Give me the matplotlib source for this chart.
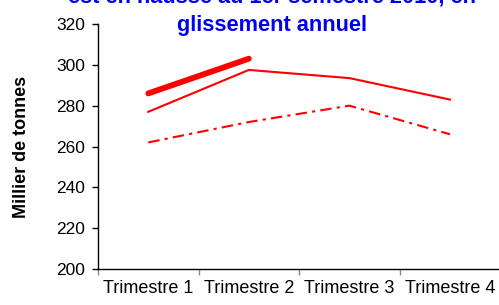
import numpy as np
import matplotlib
matplotlib.use("Agg")
import matplotlib.pyplot as plt

plt.rcParams['font.family'] = ['Liberation Sans', 'DejaVu Sans']

trimestres = ['Trimestre 1', 'Trimestre 2', 'Trimestre 3', 'Trimestre 4']
annee_2010 = [286, 303]             # thick line, only first semester
annee_2009 = [277, 297.5, 293.5, 283]
annee_2008 = [262, 272, 280, 266]

fig = plt.figure(figsize=(4.99, 3.05), dpi=100)
ax = fig.add_axes([0.1964, 0.118, 0.806, 0.8033])

x = np.arange(1, len(trimestres) + 1)
red = '#ff0000'

ax.plot(x, annee_2008, color=red, lw=1.5, dashes=(5.5, 2.5, 1.5, 2.5))
ax.plot(x, annee_2009, color=red, lw=1.5)
ax.plot(x[:len(annee_2010)], annee_2010, color=red, lw=4.2, solid_capstyle='round')

ax.set_xlim(0.5, 4.5)
ax.set_ylim(200, 320)
ax.set_yticks(np.arange(200, 321, 20))
ax.set_xticks(x)
ax.set_xticklabels(trimestres)
ax.set_xticks(np.arange(0.5, 4.6, 1), minor=True)
ax.tick_params(axis='x', which='major', length=0, pad=8, labelsize=13)
ax.tick_params(axis='x', which='minor', length=4, width=1, direction='out', color='#888888')
ax.tick_params(axis='y', length=4.5, width=1, direction='out', pad=5, labelsize=12.5)

for s in ['top', 'right']:
    ax.spines[s].set_visible(False)
for s in ['left', 'bottom']:
    ax.spines[s].set_color('black')
    ax.spines[s].set_linewidth(1)

ax.set_ylabel('Millier de tonnes', fontsize=13, fontweight='bold')
ax.yaxis.set_label_coords(-0.17, 0.5)

fig.text(272 / 499, 1 - 36 / 305,
         "est en hausse au 1er semestre 2010, en\nglissement annuel",
         ha='center', va='bottom', fontsize=15.7, fontweight='bold',
         color='#0000ee', linespacing=1.45)

fig.savefig('out.png', dpi=100)
